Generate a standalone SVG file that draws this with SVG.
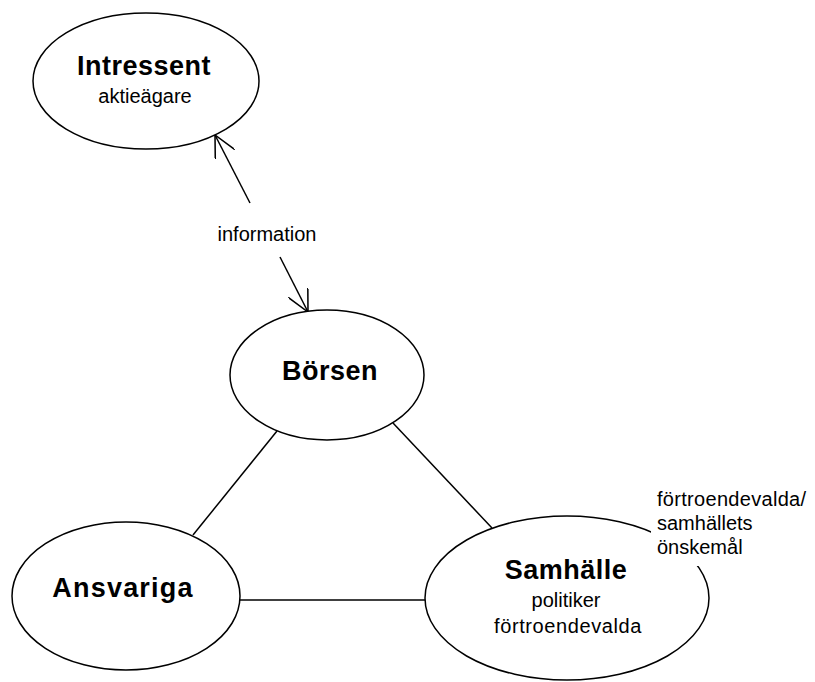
<svg xmlns="http://www.w3.org/2000/svg" width="815" height="682" viewBox="0 0 815 682">
<style>
.node ellipse{fill:#fff;stroke:#000;stroke-width:1.5}
.bold{font-family:"Liberation Sans",Arial,sans-serif;font-weight:bold;font-size:27px;fill:#000;text-anchor:middle;letter-spacing:0.5px}
.reg{font-family:"Liberation Sans",Arial,sans-serif;font-size:20px;fill:#000;text-anchor:middle}
.lab{font-family:"Liberation Sans",Arial,sans-serif;font-size:20px;fill:#000}
.conn line{stroke:#000;stroke-width:1.5;fill:none}
</style>
<defs>
<marker id="arr" viewBox="0 0 20 20" refX="20" refY="10" markerWidth="22" markerHeight="22" markerUnits="userSpaceOnUse" orient="auto">
<path d="M0,0 L20,10 L0,20" fill="none" stroke="#000" stroke-width="1.4"/>
</marker>
</defs>
<rect width="815" height="682" fill="#fff"/>
<g id="connectors" class="conn">
<line x1="250" y1="203" x2="215" y2="135" marker-end="url(#arr)"/>
<line x1="280" y1="257" x2="308" y2="312" marker-end="url(#arr)"/>
<line x1="277" y1="431" x2="193" y2="535"/>
<line x1="393" y1="423" x2="492" y2="528"/>
<line x1="240" y1="600" x2="425" y2="600"/>
</g>
<g id="intressent" class="node">
<ellipse cx="146" cy="81" rx="113" ry="68"/>
<text class="bold" x="144" y="75">Intressent</text>
<text class="reg" x="145" y="103">aktieägare</text>
</g>
<g id="information-label">
<text class="reg" x="267" y="241">information</text>
</g>
<g id="borsen" class="node">
<ellipse cx="327" cy="375" rx="97" ry="65"/>
<text class="bold" x="330" y="380">Börsen</text>
</g>
<g id="ansvariga" class="node">
<ellipse cx="126" cy="596" rx="114" ry="74"/>
<text class="bold" x="123" y="597" style="letter-spacing:1.2px">Ansvariga</text>
</g>
<g id="samhalle" class="node">
<ellipse cx="567" cy="598" rx="142" ry="82"/>
<text class="bold" x="566" y="579">Samhälle</text>
<text class="reg" x="566" y="607">politiker</text>
<text class="reg" x="568" y="633" style="letter-spacing:0.6px">förtroendevalda</text>
</g>
<g id="samhalle-note">
<rect x="651" y="488" width="164" height="78" fill="#fff"/>
<text class="lab" x="657" y="506" style="letter-spacing:0.3px">förtroendevalda/</text>
<text class="lab" x="657" y="530">samhällets</text>
<text class="lab" x="657" y="554">önskemål</text>
</g>
</svg>
